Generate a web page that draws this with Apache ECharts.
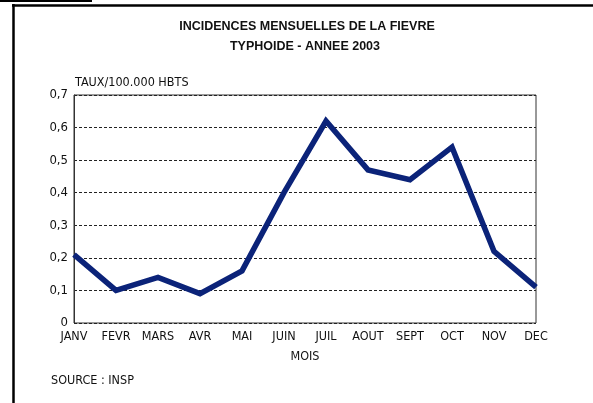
<!DOCTYPE html>
<html>
<head>
<meta charset="utf-8">
<script src="https://cdn.jsdelivr.net/npm/echarts@6/dist/echarts.min.js"></script>
<style>
  html, body { margin: 0; padding: 0; background: #fff; }
  #chart { width: 593px; height: 403px; }
</style>
</head>
<body>
<div id="chart"></div>
<script>
const months = ['JANV', 'FEVR', 'MARS', 'AVR', 'MAI', 'JUIN', 'JUIL', 'AOUT', 'SEPT', 'OCT', 'NOV', 'DEC'];
const incidence = [0.21, 0.10, 0.14, 0.09, 0.16, 0.40, 0.62, 0.47, 0.44, 0.54, 0.22, 0.11];
const titleLines = ['INCIDENCES MENSUELLES DE LA FIEVRE', 'TYPHOIDE - ANNEE 2003'];

const narrow = "'Liberation Sans Narrow', 'DejaVu Sans Condensed', sans-serif";
const titleFont = "bold 12.5px 'Liberation Sans', Arial, sans-serif";

const chart = echarts.init(document.getElementById('chart'));
chart.setOption({
  animation: false,
  backgroundColor: '#fff',
  grid: { left: 74, right: 57, top: 95, bottom: 80, show: true, borderColor: '#333', borderWidth: 1 },
  xAxis: {
    type: 'category',
    data: months,
    boundaryGap: false,
    axisLine: { show: false },
    axisTick: { show: false },
    axisLabel: { color: '#111', fontFamily: narrow, fontSize: 12.5, margin: 7, interval: 0 },
    name: 'MOIS',
    nameLocation: 'middle',
    nameGap: 27,
    nameTextStyle: { color: '#111', fontFamily: narrow, fontSize: 12.5 }
  },
  yAxis: {
    type: 'value',
    min: 0,
    max: 0.7,
    interval: 0.1,
    axisLine: { show: true, lineStyle: { color: '#333' } },
    axisTick: { show: false },
    splitLine: { show: true, lineStyle: { color: '#222', type: [3, 2], width: 1 } },
    axisLabel: {
      color: '#111', fontFamily: narrow, fontSize: 13, margin: 6,
      formatter: v => v === 0 ? '0' : v.toFixed(1).replace('.', ',')
    }
  },
  series: [{
    type: 'line',
    data: incidence,
    symbol: 'none',
    lineStyle: { color: '#0b2379', width: 5.5, join: 'miter' }
  }],
  graphic: [
    { type: 'line', shape: { x1: 0, y1: 1, x2: 92, y2: 1 }, style: { stroke: '#000', lineWidth: 2 } },
    { type: 'line', shape: { x1: 12, y1: 5.5, x2: 593, y2: 5.5 }, style: { stroke: '#000', lineWidth: 2.5 } },
    { type: 'line', shape: { x1: 13.5, y1: 4, x2: 13.5, y2: 403 }, style: { stroke: '#000', lineWidth: 2.5 } },
    { type: 'text', x: 307, y: 27, style: { text: titleLines[0], font: titleFont, fill: '#111', align: 'center', verticalAlign: 'middle' } },
    { type: 'text', x: 305, y: 47, style: { text: titleLines[1], font: titleFont, fill: '#111', align: 'center', verticalAlign: 'middle' } },
    { type: 'text', x: 75, y: 83, style: { text: 'TAUX/100.000 HBTS', font: "12.5px " + narrow, fill: '#111', verticalAlign: 'middle' } },
    { type: 'text', x: 51, y: 381, style: { text: 'SOURCE : INSP', font: "12.5px " + narrow, fill: '#111', verticalAlign: 'middle' } }
  ]
});
</script>
</body>
</html>
